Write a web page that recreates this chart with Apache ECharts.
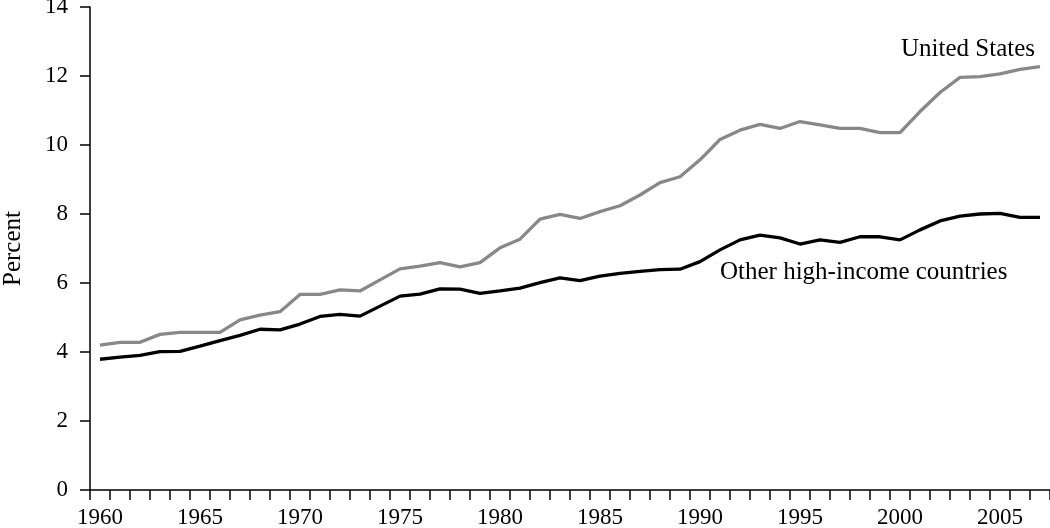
<!DOCTYPE html>
<html>
<head>
<meta charset="utf-8">
<script src="https://cdn.jsdelivr.net/npm/echarts@6/dist/echarts.min.js"></script>
<style>
html,body{margin:0;padding:0;background:#fff;}
#chart{width:1050px;height:528px;}
</style>
</head>
<body>
<div id="chart"></div>
<script>
var years = [];
for (var y = 1960; y <= 2007; y++) years.push(String(y));

var unitedStates = [4.20,4.28,4.28,4.51,4.57,4.57,4.57,4.93,5.07,5.17,
  5.67,5.67,5.80,5.77,6.09,6.41,6.49,6.59,6.47,6.59,
  7.02,7.27,7.85,7.99,7.87,8.07,8.24,8.55,8.91,9.08,
  9.57,10.16,10.43,10.60,10.48,10.68,10.58,10.48,10.48,10.36,
  10.36,10.97,11.52,11.96,11.98,12.06,12.19,12.27];

var otherHighIncome = [3.79,3.85,3.90,4.01,4.02,4.17,4.33,4.48,4.66,4.64,
  4.81,5.03,5.09,5.04,5.33,5.62,5.68,5.83,5.82,5.70,
  5.77,5.85,6.01,6.15,6.07,6.20,6.28,6.34,6.39,6.40,
  6.62,6.96,7.25,7.39,7.31,7.13,7.25,7.18,7.34,7.34,
  7.25,7.54,7.80,7.94,8.00,8.02,7.90,7.90];

var yTicks = {min: 0, max: 14, interval: 2};

var FONT = 'Liberation Serif';
var chart = echarts.init(document.getElementById('chart'));
chart.setOption({
  animation: false,
  backgroundColor: '#fff',
  grid: {left: 90, right: 0, top: 7, bottom: 38, containLabel: false, outerBoundsMode: 'none'},
  xAxis: {
    type: 'category',
    data: years,
    boundaryGap: true,
    axisLine: {show: true, lineStyle: {color: '#000', width: 1.5}},
    axisTick: {show: true, interval: 0, length: 10, lineStyle: {color: '#000', width: 1.5}},
    axisLabel: {interval: 4, margin: 16, color: '#000', fontFamily: FONT, fontSize: 23},
    splitLine: {show: false}
  },
  yAxis: {
    type: 'value',
    min: yTicks.min, max: yTicks.max, interval: yTicks.interval,
    name: 'Percent',
    nameLocation: 'middle',
    nameGap: 64,
    nameRotate: 90,
    nameTextStyle: {color: '#000', fontFamily: FONT, fontSize: 25},
    axisLine: {show: true, lineStyle: {color: '#000', width: 1.5}},
    axisTick: {show: true, length: 10, lineStyle: {color: '#000', width: 1.5}},
    axisLabel: {margin: 22, color: '#000', fontFamily: FONT, fontSize: 23},
    splitLine: {show: false}
  },
  series: [
    {
      name: 'United States',
      type: 'line',
      data: unitedStates,
      symbol: 'none',
      lineStyle: {color: '#888888', width: 3.3},
      z: 2
    },
    {
      name: 'Other high-income countries',
      type: 'line',
      data: otherHighIncome,
      symbol: 'none',
      lineStyle: {color: '#000000', width: 3.3},
      z: 3
    }
  ],
  graphic: [
    {type: 'text', right: 15, top: 37,
     style: {text: 'United States', fill: '#000', font: '25px "Liberation Serif"'}},
    {type: 'text', left: 720, top: 260,
     style: {text: 'Other high-income countries', fill: '#000', font: '25px "Liberation Serif"'}}
  ]
});
</script>
</body>
</html>
